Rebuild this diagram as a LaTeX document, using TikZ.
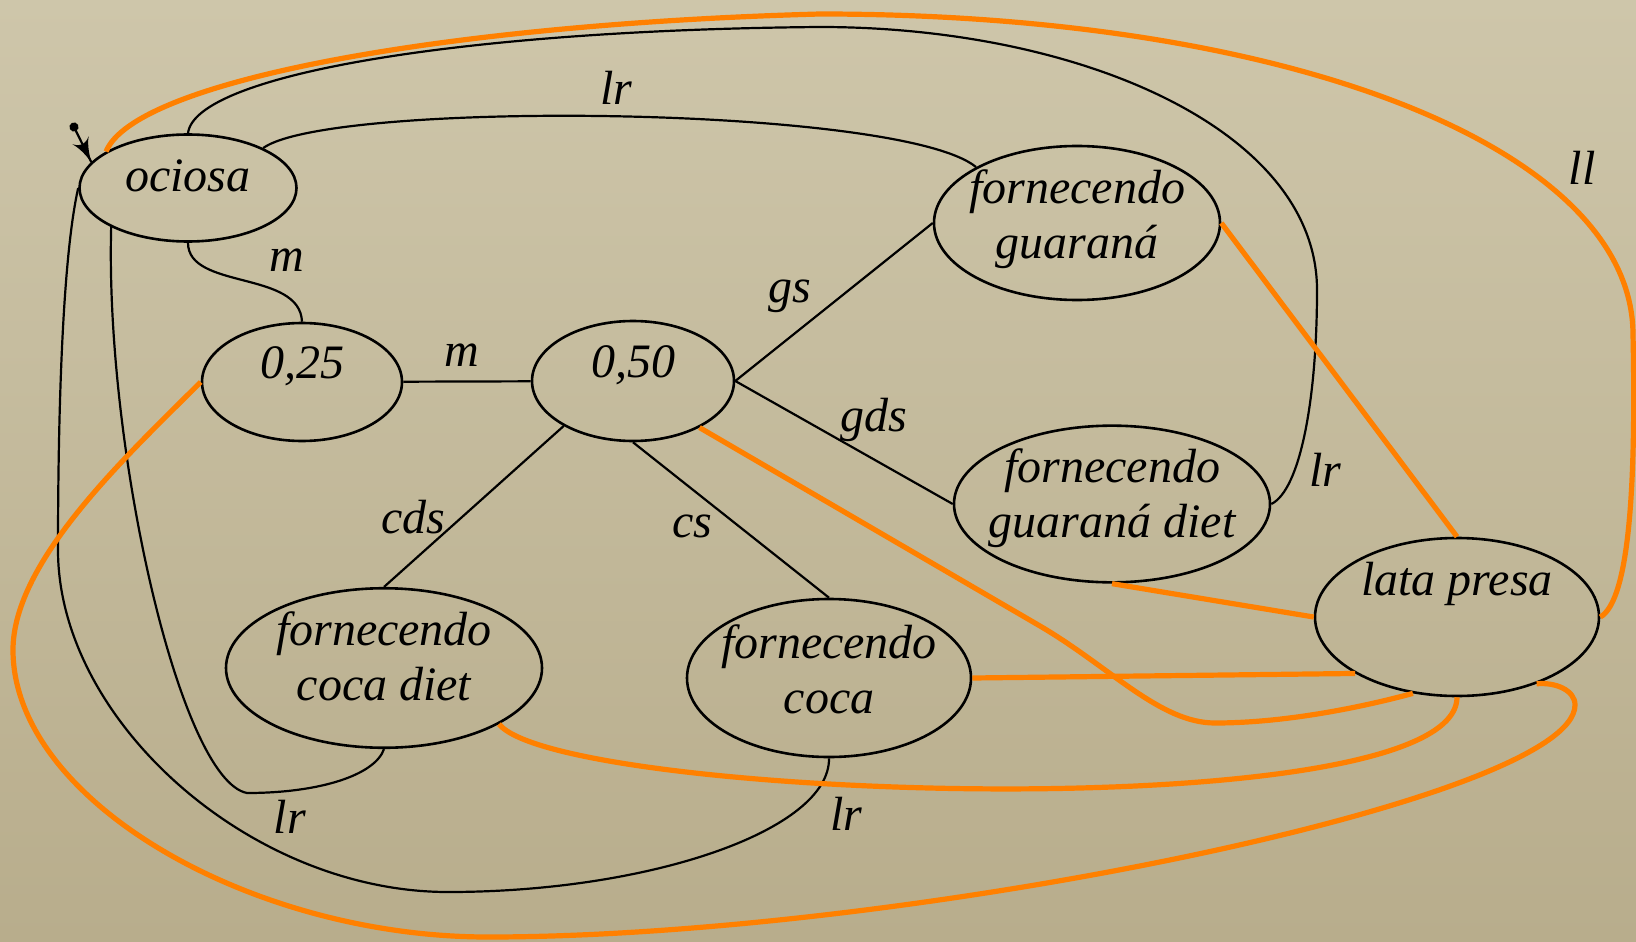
\documentclass[tikz,border=0pt]{standalone}
\usepackage{fontspec}
\setmainfont{Liberation Serif}
\usetikzlibrary{arrows}
\usetikzlibrary{decorations.markings}
\usetikzlibrary{shapes.geometric}
\definecolor{fundotopo}{RGB}{206,198,170}
\definecolor{fundobase}{RGB}{184,173,140}
\definecolor{laranja}{RGB}{255,128,0}
\newcommand{\desce}[1]{\rule[-#1]{0pt}{#1}}
\tikzset{state/.style = {ellipse, draw, line width=1.3pt, inner xsep=-10pt, inner ysep=0pt, align=center},
         trans/.style = {line width=1.1pt},
         presa/.style = {line width=2.6pt, laranja},
         seta/.style = {decoration={markings,
                                    mark=at position 0 with {\fill circle (2.3pt);},
                                    mark=at position 1 with {\arrow[scale=2]{latex'}}},
                        postaction={decorate}}}

\begin{document}
\begin{tikzpicture}[x=0.5pt, y=-0.5pt, font=\fontsize{24}{27.5}\selectfont\itshape]
    \useasboundingbox (0, 0) rectangle (1636, 941);
    \shade [top color=fundotopo, bottom color=fundobase] (0, 0) rectangle (1636, 941);

    % estados
    \node [state, minimum width=108.5pt, minimum height=53.5pt, text height=12pt, text depth=8.5pt] (ociosa) at (188, 188) {ociosa};
    \node [state, minimum width=100pt, minimum height=59pt, text height=12pt, text depth=16pt] (q25) at (302, 382) {0,25};
    \node [state, minimum width=101pt, minimum height=60pt, text height=12pt, text depth=16pt] (q50) at (633, 381) {0,50};
    \node [state, minimum width=143pt, minimum height=77pt] (guarana) at (1077, 223) {fornecendo\\guaraná\desce{9pt}};
    \node [state, minimum width=158pt, minimum height=78pt] (gdiet) at (1112, 504) {fornecendo\\guaraná diet\desce{11pt}};
    \node [state, minimum width=158pt, minimum height=78pt] (cdiet) at (384, 668) {fornecendo\\coca diet\desce{12pt}};
    \node [state, minimum width=142pt, minimum height=79pt] (coca) at (829, 678) {fornecendo\\coca\desce{9pt}};
    \node [state, minimum width=142pt, minimum height=79pt, text height=0pt, text depth=22pt] (lata) at (1457, 617) {lata presa};

    % estado inicial
    \coordinate (inicio) at (74, 127);
    \draw [trans, seta] (inicio) -- (ociosa.165);

    % transicoes
    \draw [trans] (ociosa.270) .. controls (188, 290) and (300, 270) .. (q25.90);
    \draw [trans] (q25) -- (q50);
    \draw [trans] (q50.east) -- (guarana.west);
    \draw [trans] (q50.east) -- (gdiet.west);
    \draw [trans] (q50.213) -- (cdiet.north);
    \draw [trans] (q50.south) -- (coca.north);
    \draw [trans] (ociosa.28) .. controls (330, 100) and (900, 105) .. (guarana.151);
    \draw [trans] (ociosa.north) .. controls (195, 75) and (460, 30) .. (820, 27)
                  .. controls (1080, 27) and (1317, 130) .. (1317, 290)
                  .. controls (1317, 400) and (1300, 490) .. (gdiet.east);
    \draw [trans] (ociosa.west) .. controls (62, 260) and (58, 420) .. (58, 550)
                  .. controls (58, 720) and (250, 892) .. (448, 892)
                  .. controls (650, 892) and (830, 830) .. (coca.south);
    \draw [trans] (ociosa.207) .. controls (105, 450) and (180, 780) .. (247, 793)
                  .. controls (320, 793) and (375, 775) .. (cdiet.south);

    % lata presa
    \draw [presa] (ociosa.156) .. controls (135, 80) and (450, 24) .. (820, 14)
                  .. controls (1292, 14) and (1633, 149) .. (1633, 335)
                  .. controls (1636, 480) and (1630, 600) .. (lata.east);
    \draw [presa] (guarana.east) -- (lata.north);
    \draw [presa] (gdiet.south) -- (lata.west);
    \draw [presa] (coca.east) -- (lata.209);
    \draw [presa] (q50.325) -- (1040, 626) .. controls (1110, 667) and (1160, 723) .. (1215, 723)
                  .. controls (1290, 723) and (1370, 705) .. (lata.240);
    \draw [presa] (cdiet.334) .. controls (560, 800) and (1456, 830) .. (lata.south);
    \draw [presa] (q25.west) .. controls (130, 453) and (13, 560) .. (13, 650)
                  .. controls (13, 800) and (250, 937) .. (488, 937)
                  .. controls (900, 937) and (1575, 800) .. (1575, 705)
                  .. controls (1575, 690) and (1555, 682) .. (lata.320);

    % rotulos
    \node (m1) at (287, 260) {m};
    \node (m2) at (462, 355) {m};
    \node (gs) at (790, 296) {gs};
    \node (gds) at (874, 420) {gds};
    \node (cds) at (413, 517) {cds};
    \node (cs) at (692, 526) {cs};
    \node (lr1) at (616, 88) {lr};
    \node (ll) at (1582, 168) {ll};
    \node (lr2) at (1325, 470) {lr};
    \node (lr3) at (290, 817) {lr};
    \node (lr4) at (846, 814) {lr};
\end{tikzpicture}
\end{document}
